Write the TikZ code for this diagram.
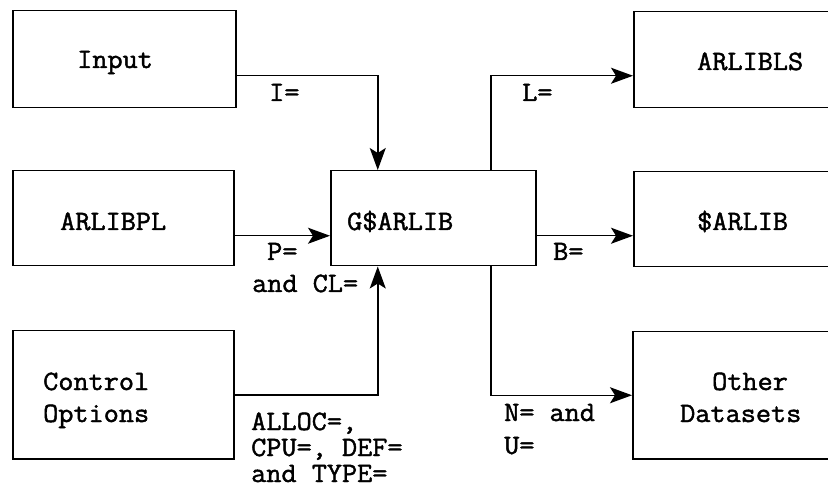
\documentclass[tikz,border=0pt]{standalone}
\usepackage{fontspec}
\setmonofont{Latin Modern Mono}[FakeStretch=1.05,FakeBold=1.6]
\usetikzlibrary{arrows.meta}
\tikzset{
  box/.style={draw, line width=1.5pt, rectangle, inner sep=0pt, anchor=north west},
  txt/.style={inner sep=0pt, anchor=base west, font=\ttfamily\fontsize{28}{30}\selectfont},
  arr/.style={line width=1.5pt, -{Stealth[length=22pt,width=16pt,inset=5pt]}},
  ln/.style={line width=1.5pt}
}
\begin{document}
\begin{tikzpicture}[x=1pt,y=-1pt]
\useasboundingbox (0,0) rectangle (828,489);
\clip (0,0) rectangle (828,489);
% boxes
\node[box, minimum width=223pt, minimum height=97pt] (in) at (12,10) {};
\node[box, minimum width=221pt, minimum height=95pt] (pl) at (12,170) {};
\node[box, minimum width=221pt, minimum height=128pt] (co) at (12,330) {};
\node[box, minimum width=205pt, minimum height=95pt] (g) at (330,170) {};
\node[box, minimum width=207pt, minimum height=96pt] (ls) at (633,11) {};
\node[box, minimum width=207pt, minimum height=95pt] (ar) at (633,171) {};
\node[box, minimum width=208pt, minimum height=127pt] (ot) at (632,331) {};
% box texts
\node[txt] (tin) at (77,68) {Input};
\node[txt] (tpl) at (60,230) {ARLIBPL};
\node[txt] (tco1) at (43,390) {Control};
\node[txt] (tco2) at (43,422) {Options};
\node[txt] (tg) at (347,230) {G\$ARLIB};
\node[txt] (tls) at (697,70) {ARLIBLS};
\node[txt] (tar) at (697,230) {\$ARLIB};
\node[txt] (tot1) at (712,390) {Other};
\node[txt] (tot2) at (680,422) {Datasets};
% connector labels
\node[txt] (li) at (269,101) {I=};
\node[txt] (ll) at (522,101) {L=};
\node[txt] (lp1) at (267,260) {P=};
\node[txt] (lp2) at (252,292) {and CL=};
\node[txt] (lb) at (553,260) {B=};
\node[txt] (lc1) at (251,430) {ALLOC=,};
\node[txt] (lc2) at (251,456) {CPU=, DEF=};
\node[txt] (lc3) at (251,482) {and TYPE=};
\node[txt] (ln1) at (504,421) {N= and};
\node[txt] (ln2) at (504,454) {U=};
% connectors
\draw[arr] ([yshift=-16.5pt]in.east) -| ([xshift=-55.5pt]g.north);
\draw[arr] ([yshift=-17.5pt]pl.east) -- ([yshift=-17.5pt]g.west);
\draw[arr] (co.east) -| ([xshift=-55.5pt]g.south);
\draw[arr] ([xshift=57.5pt]g.north) |- ([yshift=-16pt]ls.west);
\draw[arr] ([yshift=-17.5pt]g.east) -- ([yshift=-16.5pt]ar.west);
\draw[arr] ([xshift=57.5pt]g.south) |- (ot.west);
\end{tikzpicture}
\end{document}
